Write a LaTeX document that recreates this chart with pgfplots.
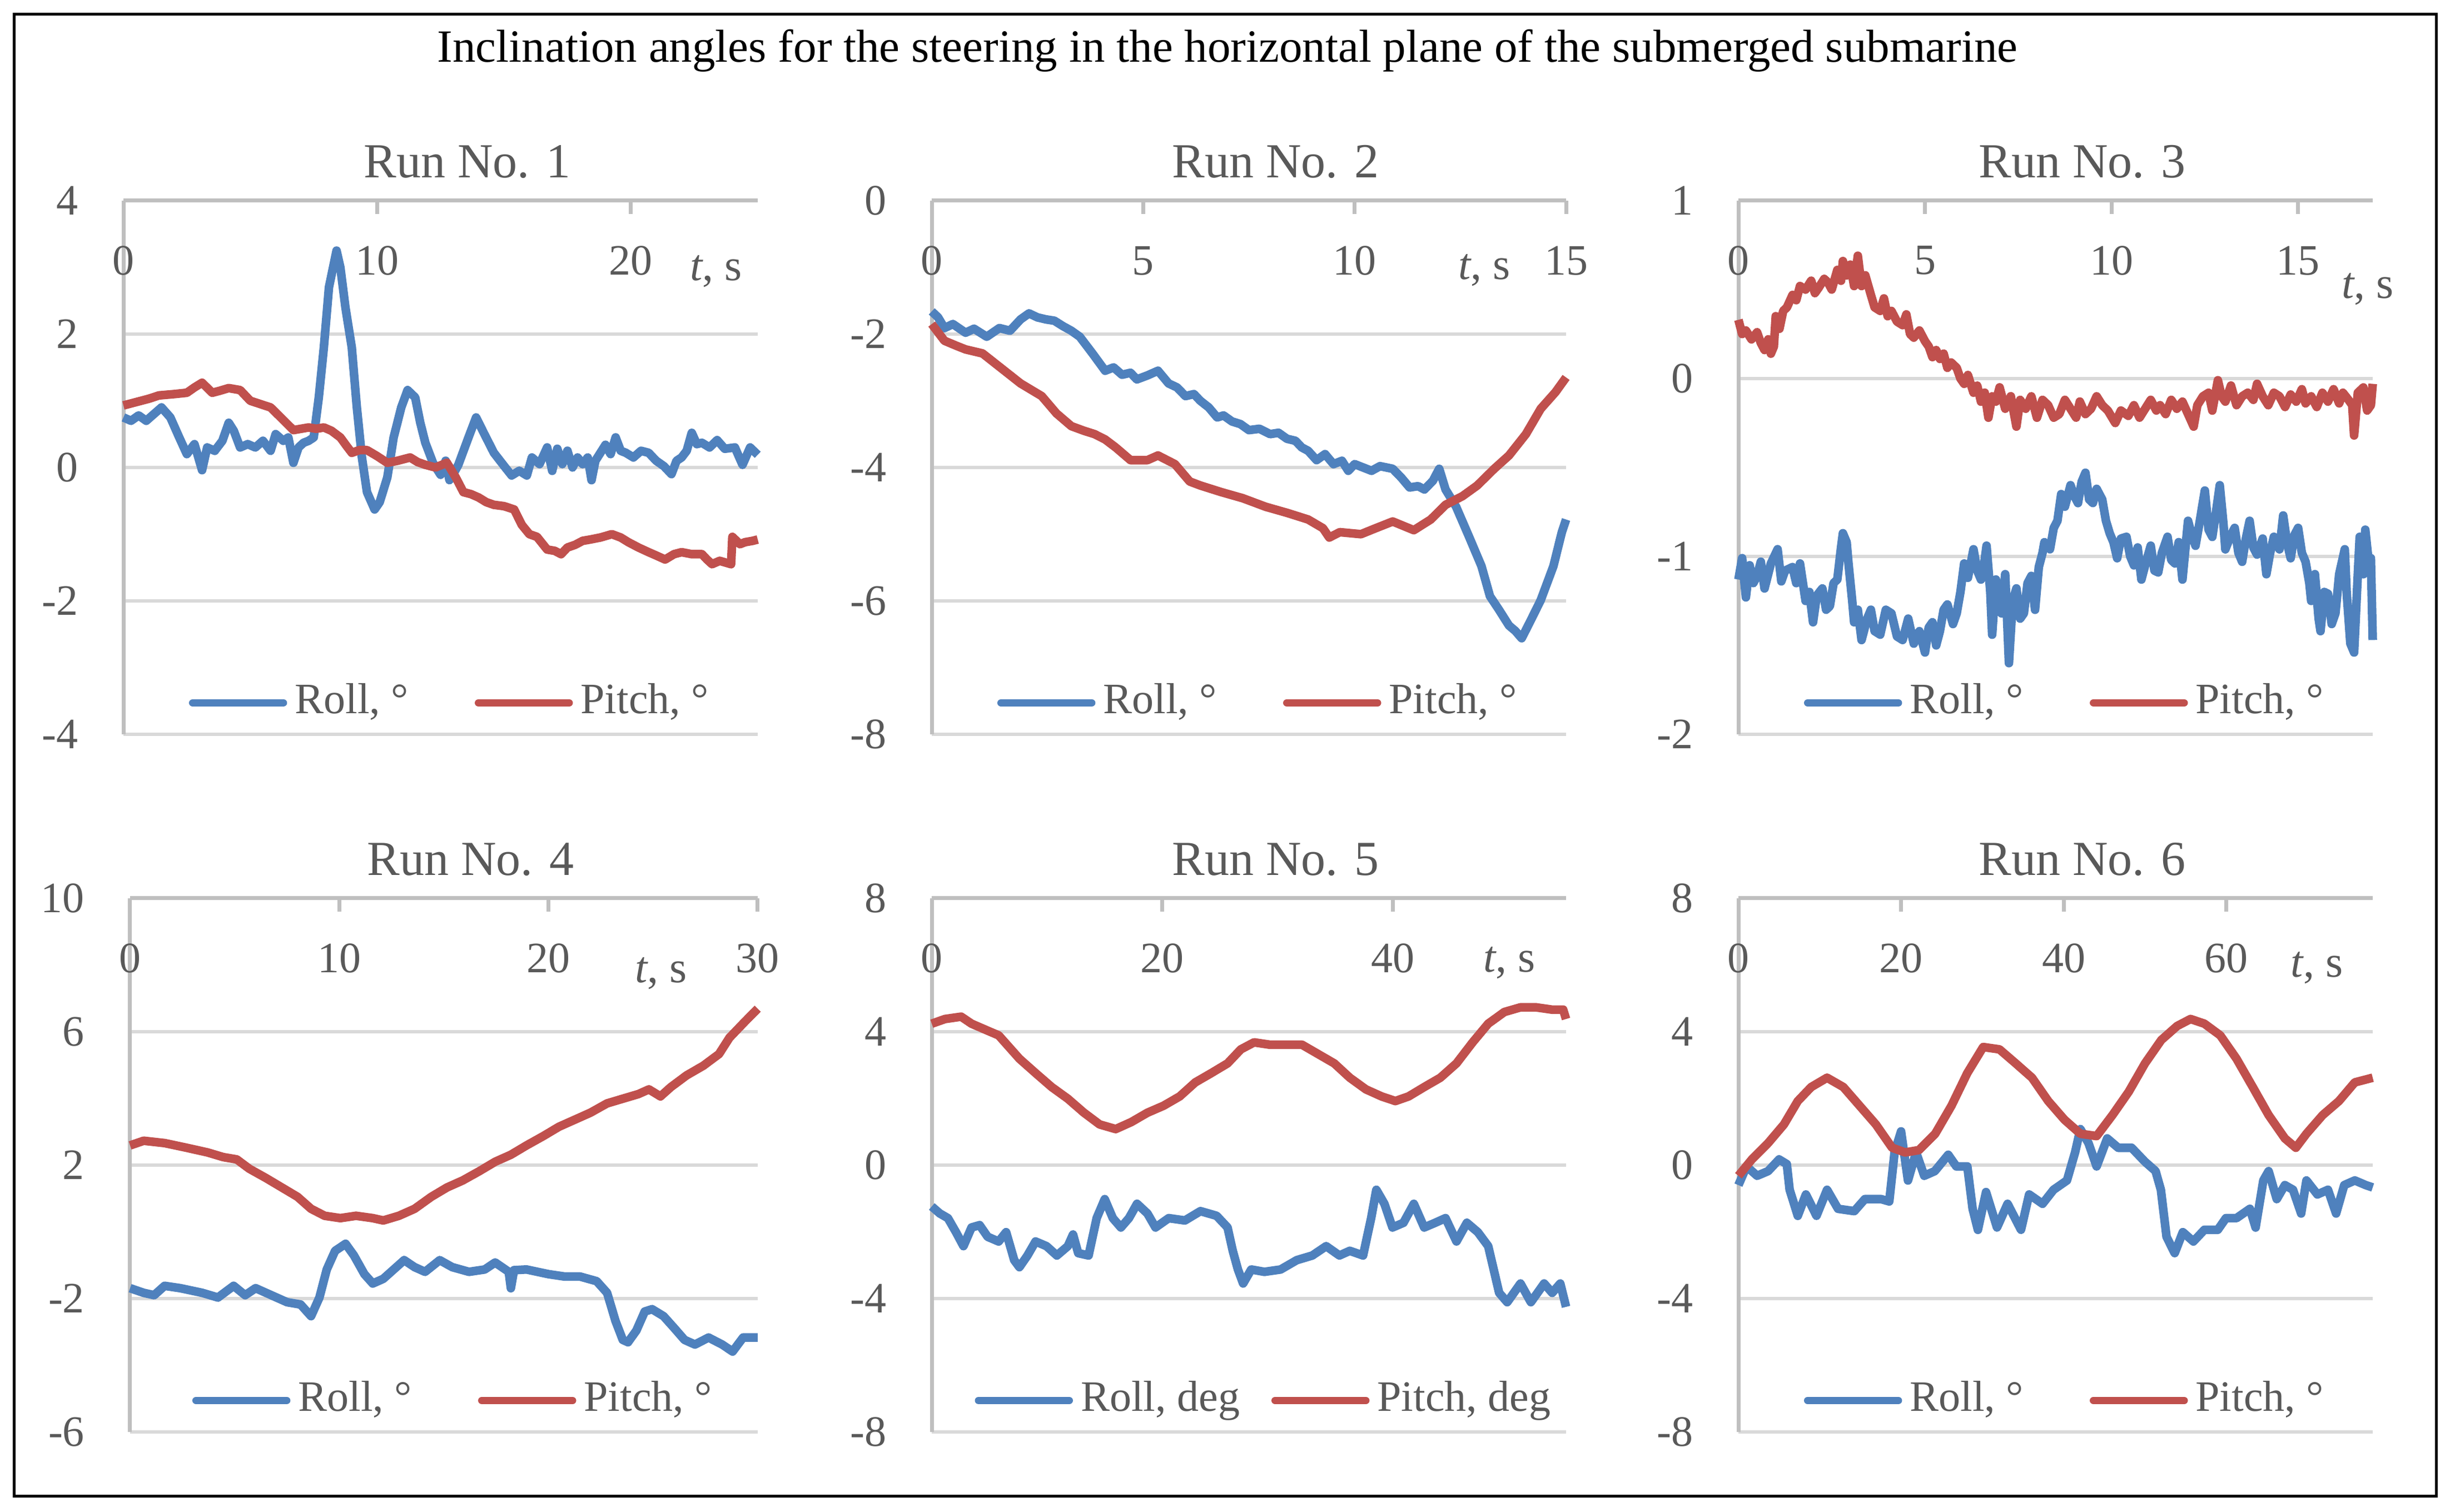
\documentclass[border=0pt]{standalone}
\usepackage{fontspec}
\setmainfont{Liberation Serif}
\usepackage{pgfplots}
\pgfplotsset{compat=1.18}

\definecolor{rollblue}{HTML}{4F81BD}
\definecolor{pitchred}{HTML}{C0504D}
\definecolor{textgray}{HTML}{595959}
\definecolor{axisgray}{HTML}{BFBFBF}
\definecolor{gridgray}{HTML}{D9D9D9}

\pgfplotsset{
  run/.style={
    scale only axis, height=96pt, clip=false,
    axis x line*=top, axis y line*=left,
    axis line style={draw=axisgray, line width=0.7pt},
    ymajorgrids, major grid style={draw=gridgray, line width=0.65pt},
    xtick style={draw=axisgray, line width=0.7pt}, major tick length=2.4pt,
    ytick style={draw=none},
    /pgf/number format/assume math mode=true,
    tick label style={font=\fontsize{7.8}{9}\selectfont, text=textgray, inner sep=0pt},
    xticklabel style={anchor=north, yshift=-8pt},
    yticklabel style={anchor=east, xshift=-8pt},
    title style={at={(0.5,1)}, anchor=base, yshift=-1.9pt, xshift=4.8pt, inner sep=0pt,
      font=\fontsize{8.8}{10}\selectfont, text=textgray},
    xlabel={\textit{t}, s},
    xlabel style={anchor=base, inner sep=0pt, font=\fontsize{8}{9}\selectfont, text=textgray},
    legend columns=2,
    legend style={at={(0.5,0)}, anchor=south, xshift=1.5pt, yshift=2pt,
      draw=none, fill=none, inner sep=0pt, nodes={inner sep=0pt},
      font=\fontsize{7.8}{9}\selectfont, text=textgray,
      /tikz/every odd column/.append style={column sep=1.4pt},
      /tikz/every even column/.append style={column sep=11.9pt}},
    legend image code/.code={\draw[#1, line width=1.35pt, line cap=round] (0pt,0pt) -- (16.3pt,0pt);},
    every axis plot/.append style={line width=1.55pt, line join=round, no markers},
  },
}

\begin{document}
\begin{tikzpicture}
\path[use as bounding box] (0pt,0pt) rectangle (441.6pt,272pt);
\draw[line width=0.5pt] (2.5pt,2.8pt) rectangle (438.2pt,269.4pt);
\node[anchor=base, font=\fontsize{8.3}{9}\selectfont] at (220.8pt,260.8pt)
  {Inclination angles for the steering in the horizontal plane of the submerged submarine};

% Run 1
\begin{axis}[run, at={(22.2pt,139.9pt)}, anchor=south west, width=114.1pt,
  title={Run No. 1}, xmin=0, xmax=25, ymin=-4, ymax=4,
  xtick={0,10,20}, ytick={-4,-2,0,2,4},
  xlabel style={at={(0.934,1)}, yshift=-14.4pt}]
\addplot[rollblue] coordinates {
(0,0.75) (0.3,0.70) (0.6,0.78) (0.9,0.70) (1.2,0.80) (1.5,0.90) (1.85,0.75) (2.2,0.45)
(2.5,0.20) (2.8,0.35) (3.1,-0.04) (3.3,0.30) (3.6,0.25) (3.9,0.40) (4.15,0.67) (4.35,0.55)
(4.6,0.30) (4.9,0.35) (5.2,0.30) (5.5,0.40) (5.8,0.25) (6.0,0.50) (6.3,0.40) (6.5,0.45)
(6.7,0.07) (6.9,0.30) (7.1,0.37) (7.3,0.40) (7.5,0.45) (7.7,1.05) (7.9,1.80) (8.1,2.70)
(8.4,3.25) (8.55,3.00) (8.75,2.40) (9.0,1.80) (9.2,0.90) (9.4,0.15) (9.6,-0.37) (9.9,-0.63)
(10.1,-0.52) (10.4,-0.15) (10.65,0.45) (10.95,0.90) (11.2,1.16) (11.5,1.05) (11.7,0.67)
(11.9,0.37) (12.2,0.07) (12.5,-0.11) (12.7,0.10) (12.85,-0.19) (13.0,-0.10) (13.2,0.04)
(13.6,0.45) (13.9,0.75) (14.2,0.52) (14.6,0.22) (15.05,0.0) (15.3,-0.12) (15.6,-0.05)
(15.9,-0.12) (16.1,0.15) (16.4,0.05) (16.7,0.30) (16.9,-0.05) (17.1,0.28) (17.3,0.05)
(17.5,0.25) (17.7,0.0) (17.9,0.15) (18.1,0.05) (18.3,0.15) (18.45,-0.19) (18.6,0.10)
(19.0,0.34) (19.2,0.20) (19.4,0.45) (19.6,0.25) (19.8,0.22) (20.1,0.15) (20.4,0.25)
(20.7,0.22) (21.0,0.10) (21.3,0.02) (21.6,-0.10) (21.8,0.10) (22.0,0.15) (22.2,0.25)
(22.4,0.52) (22.6,0.35) (22.8,0.37) (23.1,0.30) (23.4,0.41) (23.7,0.28) (24.1,0.30)
(24.4,0.04) (24.7,0.30) (25.0,0.19)
};
\addlegendentry{Roll, °}
\addplot[pitchred] coordinates {
(0,0.93) (0.5,0.98) (1.0,1.03) (1.4,1.08) (2.0,1.10) (2.5,1.12) (2.8,1.20) (3.1,1.27)
(3.5,1.12) (3.8,1.15) (4.15,1.19) (4.6,1.16) (5.0,1.00) (5.4,0.95) (5.8,0.90) (6.2,0.75)
(6.7,0.56) (7.0,0.58) (7.3,0.60) (7.6,0.58) (7.9,0.60) (8.2,0.55) (8.55,0.45) (8.8,0.32)
(9.0,0.22) (9.3,0.26) (9.6,0.26) (10.0,0.17) (10.4,0.07) (10.8,0.10) (11.3,0.15) (11.6,0.08)
(11.9,0.04) (12.3,0.0) (12.75,0.07) (13.1,-0.15) (13.4,-0.37) (13.7,-0.40) (14.0,-0.45)
(14.3,-0.52) (14.6,-0.56) (15.0,-0.58) (15.4,-0.63) (15.7,-0.86) (16.0,-1.00) (16.3,-1.04)
(16.7,-1.23) (17.0,-1.25) (17.25,-1.30) (17.5,-1.20) (17.8,-1.16) (18.1,-1.10) (18.4,-1.08)
(18.8,-1.05) (19.25,-1.00) (19.6,-1.05) (19.9,-1.12) (20.3,-1.20) (20.7,-1.27) (21.0,-1.32)
(21.35,-1.38) (21.7,-1.30) (22.0,-1.27) (22.4,-1.30) (22.8,-1.30) (23.0,-1.38) (23.2,-1.45)
(23.5,-1.40) (23.95,-1.45) (24.0,-1.04) (24.3,-1.15) (24.5,-1.12) (24.8,-1.10) (25.0,-1.08)
};
\addlegendentry{Pitch, °}
\end{axis}

% Run 2
\begin{axis}[run, at={(167.6pt,139.9pt)}, anchor=south west, width=114.1pt,
  title={Run No. 2}, xmin=0, xmax=15, ymin=-8, ymax=0,
  xtick={0,5,10,15}, ytick={-8,-6,-4,-2,0},
  xlabel style={at={(0.871,1)}, yshift=-14.2pt}]
\addplot[rollblue] coordinates {
(0,-1.66) (0.15,-1.75) (0.3,-1.91) (0.5,-1.85) (0.8,-1.98) (1.0,-1.92) (1.3,-2.04) (1.6,-1.91)
(1.85,-1.95) (2.1,-1.78) (2.3,-1.69) (2.5,-1.75) (2.7,-1.78) (2.9,-1.80) (3.1,-1.88) (3.3,-1.95)
(3.5,-2.04) (3.8,-2.29) (4.1,-2.55) (4.3,-2.50) (4.5,-2.61) (4.7,-2.58) (4.85,-2.68) (5.1,-2.62)
(5.35,-2.55) (5.6,-2.74) (5.8,-2.80) (6.0,-2.93) (6.2,-2.90) (6.35,-3.0) (6.55,-3.10) (6.75,-3.25)
(6.9,-3.22) (7.1,-3.31) (7.3,-3.35) (7.5,-3.44) (7.75,-3.42) (8.0,-3.50) (8.2,-3.48) (8.4,-3.57)
(8.6,-3.60) (8.75,-3.70) (8.9,-3.75) (9.1,-3.89) (9.3,-3.80) (9.5,-3.95) (9.7,-3.90) (9.85,-4.05)
(10.0,-3.95) (10.2,-4.00) (10.4,-4.05) (10.6,-3.98) (10.9,-4.02) (11.1,-4.15) (11.3,-4.30)
(11.5,-4.28) (11.65,-4.33) (11.85,-4.20) (12.0,-4.02) (12.15,-4.33) (12.4,-4.59) (12.7,-5.03)
(13.0,-5.48) (13.2,-5.93) (13.4,-6.12) (13.65,-6.37) (13.8,-6.45) (13.95,-6.56) (14.15,-6.31)
(14.4,-5.99) (14.7,-5.48) (14.9,-4.97) (15.0,-4.78)
};
\addlegendentry{Roll, °}
\addplot[pitchred] coordinates {
(0,-1.85) (0.3,-2.10) (0.6,-2.18) (0.8,-2.23) (1.2,-2.29) (1.6,-2.49) (2.1,-2.74) (2.6,-2.93)
(2.95,-3.19) (3.3,-3.38) (3.6,-3.45) (3.85,-3.50) (4.1,-3.58) (4.35,-3.70) (4.7,-3.89) (5.1,-3.89)
(5.35,-3.82) (5.75,-3.95) (6.1,-4.21) (6.35,-4.27) (6.85,-4.37) (7.35,-4.46) (7.9,-4.59)
(8.4,-4.68) (8.9,-4.78) (9.25,-4.91) (9.4,-5.05) (9.65,-4.97) (10.15,-5.00) (10.5,-4.91)
(10.9,-4.81) (11.4,-4.94) (11.8,-4.78) (12.15,-4.56) (12.55,-4.43) (12.9,-4.27) (13.3,-4.02)
(13.65,-3.82) (14.05,-3.50) (14.4,-3.12) (14.75,-2.87) (15.0,-2.65)
};
\addlegendentry{Pitch, °}
\end{axis}

% Run 3
\begin{axis}[run, at={(312.7pt,139.9pt)}, anchor=south west, width=114.1pt,
  title={Run No. 3}, xmin=0, xmax=17, ymin=-2, ymax=1,
  xtick={0,5,10,15}, ytick={-2,-1,0,1},
  xlabel style={at={(0.992,1)}, yshift=-17.6pt}]
\addplot[rollblue] coordinates {
(0,-1.13) (0.1,-1.01) (0.2,-1.23) (0.3,-1.05) (0.4,-1.15) (0.5,-1.11) (0.6,-1.03) (0.7,-1.18)
(0.87,-1.04) (1.05,-0.96) (1.15,-1.14) (1.25,-1.08) (1.45,-1.06) (1.55,-1.15) (1.65,-1.04)
(1.8,-1.25) (1.9,-1.20) (2.0,-1.37) (2.1,-1.22) (2.25,-1.18) (2.35,-1.30) (2.45,-1.28)
(2.55,-1.15) (2.65,-1.13) (2.75,-0.95) (2.8,-0.87) (2.9,-0.92) (2.95,-1.04) (3.05,-1.25)
(3.1,-1.37) (3.2,-1.30) (3.3,-1.47) (3.45,-1.35) (3.55,-1.30) (3.65,-1.42) (3.8,-1.44)
(3.95,-1.30) (4.1,-1.32) (4.25,-1.45) (4.4,-1.47) (4.55,-1.35) (4.7,-1.49) (4.85,-1.42)
(5.0,-1.54) (5.1,-1.40) (5.2,-1.37) (5.3,-1.50) (5.4,-1.42) (5.5,-1.30) (5.6,-1.27) (5.75,-1.38)
(5.85,-1.32) (5.95,-1.20) (6.05,-1.04) (6.15,-1.12) (6.3,-0.96) (6.4,-1.08) (6.5,-1.13)
(6.6,-1.02) (6.65,-0.94) (6.75,-1.20) (6.8,-1.44) (6.9,-1.13) (7.0,-1.25) (7.05,-1.32)
(7.15,-1.10) (7.25,-1.60) (7.35,-1.25) (7.45,-1.18) (7.55,-1.35) (7.65,-1.32) (7.75,-1.15)
(7.85,-1.11) (7.95,-1.30) (8.05,-1.06) (8.15,-0.98) (8.2,-0.92) (8.35,-0.96) (8.45,-0.84)
(8.55,-0.80) (8.65,-0.65) (8.75,-0.72) (8.9,-0.60) (9.0,-0.66) (9.1,-0.70) (9.2,-0.58)
(9.3,-0.53) (9.4,-0.68) (9.5,-0.70) (9.6,-0.62) (9.75,-0.68) (9.85,-0.80) (9.95,-0.87)
(10.05,-0.92) (10.15,-1.01) (10.25,-0.90) (10.4,-0.89) (10.5,-1.00) (10.6,-1.05) (10.7,-0.95)
(10.8,-1.13) (10.9,-1.05) (11.05,-0.94) (11.15,-1.08) (11.25,-1.09) (11.35,-0.98) (11.5,-0.89)
(11.6,-1.02) (11.7,-1.04) (11.8,-0.92) (11.9,-1.13) (12.05,-0.80) (12.15,-0.88) (12.25,-0.94)
(12.35,-0.82) (12.5,-0.63) (12.6,-0.85) (12.7,-0.89) (12.8,-0.75) (12.9,-0.60) (13.0,-0.82)
(13.05,-0.96) (13.2,-0.88) (13.3,-0.84) (13.4,-0.98) (13.5,-1.03) (13.6,-0.90) (13.7,-0.80)
(13.8,-0.95) (13.9,-0.99) (14.05,-0.90) (14.15,-1.10) (14.25,-0.98) (14.35,-0.89) (14.5,-0.96)
(14.6,-0.77) (14.7,-0.92) (14.8,-1.01) (14.9,-0.88) (15.0,-0.84) (15.1,-0.98) (15.2,-1.03)
(15.3,-1.15) (15.35,-1.25) (15.45,-1.10) (15.55,-1.35) (15.6,-1.42) (15.7,-1.20) (15.8,-1.21)
(15.9,-1.38) (16.0,-1.32) (16.1,-1.10) (16.25,-0.96) (16.3,-1.20) (16.4,-1.49) (16.5,-1.54)
(16.6,-1.10) (16.65,-0.89) (16.75,-1.10) (16.8,-0.85) (16.9,-1.05) (16.95,-1.01) (17.0,-1.47)
};
\addlegendentry{Roll, °}
\addplot[pitchred] coordinates {
(0,0.33) (0.1,0.25) (0.2,0.27) (0.35,0.22) (0.5,0.26) (0.6,0.20) (0.7,0.16) (0.8,0.22)
(0.87,0.14) (0.95,0.18) (1.0,0.35) (1.1,0.28) (1.2,0.38) (1.3,0.40) (1.45,0.47) (1.55,0.44)
(1.65,0.52) (1.8,0.50) (1.95,0.55) (2.05,0.48) (2.15,0.51) (2.3,0.56) (2.4,0.54) (2.5,0.50)
(2.65,0.61) (2.75,0.55) (2.8,0.66) (2.9,0.58) (3.0,0.64) (3.1,0.52) (3.2,0.69) (3.3,0.52)
(3.4,0.58) (3.55,0.47) (3.65,0.40) (3.8,0.38) (3.9,0.45) (4.0,0.35) (4.1,0.38) (4.25,0.32)
(4.4,0.30) (4.5,0.36) (4.6,0.25) (4.7,0.23) (4.85,0.27) (5.0,0.21) (5.1,0.18) (5.2,0.12)
(5.3,0.16) (5.4,0.11) (5.5,0.14) (5.6,0.06) (5.7,0.09) (5.85,0.06) (5.95,0.00) (6.05,-0.03)
(6.15,0.02) (6.3,-0.08) (6.4,-0.04) (6.5,-0.13) (6.6,-0.08) (6.7,-0.22) (6.8,-0.10) (6.9,-0.13)
(7.0,-0.05) (7.15,-0.17) (7.3,-0.10) (7.45,-0.27) (7.55,-0.12) (7.7,-0.17) (7.85,-0.10)
(8.0,-0.22) (8.15,-0.12) (8.3,-0.15) (8.45,-0.22) (8.6,-0.20) (8.75,-0.12) (8.9,-0.17)
(9.05,-0.22) (9.15,-0.13) (9.3,-0.20) (9.45,-0.17) (9.6,-0.10) (9.75,-0.15) (9.9,-0.18)
(10.1,-0.25) (10.25,-0.18) (10.45,-0.21) (10.6,-0.15) (10.75,-0.22) (10.9,-0.17) (11.05,-0.12)
(11.2,-0.18) (11.3,-0.15) (11.45,-0.20) (11.6,-0.12) (11.75,-0.17) (11.9,-0.13) (12.05,-0.20)
(12.2,-0.27) (12.3,-0.15) (12.45,-0.10) (12.6,-0.08) (12.7,-0.18) (12.85,-0.01) (12.95,-0.10)
(13.05,-0.13) (13.2,-0.04) (13.35,-0.15) (13.5,-0.10) (13.65,-0.08) (13.8,-0.12) (13.9,-0.03)
(14.05,-0.10) (14.2,-0.15) (14.35,-0.08) (14.5,-0.10) (14.65,-0.16) (14.8,-0.09) (14.95,-0.13)
(15.1,-0.06) (15.2,-0.14) (15.35,-0.10) (15.5,-0.16) (15.65,-0.08) (15.8,-0.13) (15.95,-0.06)
(16.1,-0.14) (16.2,-0.08) (16.35,-0.12) (16.45,-0.15) (16.5,-0.32) (16.6,-0.08) (16.75,-0.05)
(16.85,-0.18) (16.95,-0.15) (17.0,-0.03)
};
\addlegendentry{Pitch, °}
\end{axis}

% Run 4
\begin{axis}[run, at={(23.4pt,14.4pt)}, anchor=south west, width=112.9pt,
  title={Run No. 4}, xmin=0, xmax=30, ymin=-6, ymax=10,
  xtick={0,10,20,30}, ytick={-6,-2,2,6,10},
  xlabel style={at={(0.846,1)}, yshift=-15.2pt}]
\addplot[rollblue] coordinates {
(0,-1.69) (0.65,-1.83) (1.15,-1.90) (1.65,-1.62) (2.4,-1.69) (3.45,-1.83) (4.2,-1.97)
(4.95,-1.62) (5.5,-1.90) (6.0,-1.69) (6.75,-1.90) (7.5,-2.11) (8.15,-2.18) (8.65,-2.53)
(9.05,-1.97) (9.4,-1.13) (9.8,-0.57) (10.3,-0.36) (10.7,-0.71) (11.2,-1.27) (11.6,-1.55)
(12.1,-1.41) (12.6,-1.13) (13.1,-0.85) (13.6,-1.06) (14.1,-1.20) (14.8,-0.85) (15.4,-1.06)
(16.2,-1.20) (16.95,-1.13) (17.45,-0.92) (18.1,-1.20) (18.2,-1.69) (18.35,-1.15) (18.95,-1.13)
(20.0,-1.27) (20.75,-1.34) (21.5,-1.34) (22.3,-1.48) (22.8,-1.83) (23.2,-2.67) (23.55,-3.24)
(23.8,-3.31) (24.2,-2.96) (24.6,-2.39) (24.95,-2.32) (25.5,-2.53) (26.0,-2.88) (26.5,-3.24)
(27.0,-3.38) (27.65,-3.17) (28.3,-3.38) (28.8,-3.59) (29.3,-3.17) (30.0,-3.17)
};
\addlegendentry{Roll, °}
\addplot[pitchred] coordinates {
(0,2.59) (0.65,2.73) (1.65,2.66) (2.7,2.52) (3.7,2.38) (4.45,2.24) (5.1,2.17) (5.7,1.89)
(6.5,1.61) (7.25,1.33) (8.0,1.05) (8.65,0.69) (9.3,0.48) (10.05,0.41) (10.8,0.48) (11.6,0.41)
(12.1,0.34) (12.85,0.48) (13.6,0.69) (14.4,1.05) (15.15,1.33) (15.9,1.54) (16.7,1.82)
(17.45,2.10) (18.2,2.31) (18.95,2.59) (19.75,2.87) (20.5,3.15) (21.25,3.36) (22.0,3.57)
(22.8,3.85) (23.55,3.99) (24.3,4.13) (24.8,4.27) (25.35,4.06) (25.85,4.34) (26.6,4.69)
(27.4,4.98) (28.15,5.33) (28.65,5.82) (29.4,6.31) (30.0,6.69)
};
\addlegendentry{Pitch, °}
\end{axis}

% Run 5
\begin{axis}[run, at={(167.6pt,14.4pt)}, anchor=south west, width=114.1pt,
  title={Run No. 5}, xmin=0, xmax=55, ymin=-8, ymax=8,
  xtick={0,20,40}, ytick={-8,-4,0,4,8},
  xlabel style={at={(0.911,1)}, yshift=-13.3pt},
  legend style={xshift=1pt, /tikz/every even column/.append style={column sep=5.7pt}}]
\addplot[rollblue] coordinates {
(0,-1.24) (0.7,-1.45) (1.4,-1.59) (2.1,-2.01) (2.75,-2.43) (3.45,-1.87) (4.15,-1.80)
(4.85,-2.15) (5.8,-2.29) (6.45,-2.01) (7.15,-2.85) (7.6,-3.06) (8.3,-2.71) (9.0,-2.29)
(9.95,-2.43) (10.85,-2.71) (11.8,-2.43) (12.25,-2.08) (12.7,-2.64) (13.6,-2.71) (14.3,-1.59)
(15.0,-1.02) (15.7,-1.59) (16.4,-1.87) (17.1,-1.59) (17.8,-1.16) (18.7,-1.45) (19.4,-1.87)
(20.55,-1.59) (21.95,-1.66) (23.3,-1.38) (24.7,-1.52) (25.65,-1.87) (26.1,-2.57) (26.55,-3.13)
(27.0,-3.55) (27.7,-3.13) (28.85,-3.20) (30.25,-3.13) (31.65,-2.85) (33.0,-2.71) (34.2,-2.43)
(35.35,-2.71) (36.25,-2.57) (37.4,-2.71) (38.1,-1.59) (38.55,-0.74) (39.25,-1.16) (39.95,-1.87)
(40.9,-1.73) (41.8,-1.16) (42.7,-1.87) (43.65,-1.73) (44.55,-1.59) (45.5,-2.29) (46.4,-1.73)
(47.35,-2.01) (48.25,-2.43) (49.2,-3.83) (49.9,-4.11) (51.05,-3.55) (51.95,-4.11) (53.1,-3.55)
(53.8,-3.83) (54.5,-3.55) (55.0,-4.25)
};
\addlegendentry{Roll, deg}
\addplot[pitchred] coordinates {
(0,4.24) (1.15,4.38) (2.55,4.45) (3.45,4.24) (4.85,4.03) (5.8,3.89) (6.7,3.54) (7.6,3.19)
(9.0,2.76) (10.4,2.34) (11.8,1.99) (13.2,1.57) (14.55,1.22) (15.95,1.08) (17.3,1.29)
(18.7,1.57) (20.1,1.78) (21.5,2.06) (22.85,2.48) (24.25,2.76) (25.65,3.05) (26.8,3.47)
(27.95,3.68) (29.3,3.61) (30.7,3.61) (32.1,3.61) (33.5,3.33) (34.9,3.05) (36.25,2.62)
(37.65,2.27) (39.0,2.06) (40.2,1.92) (41.35,2.06) (42.7,2.34) (44.1,2.62) (45.5,3.05)
(46.9,3.68) (48.25,4.24) (49.65,4.59) (51.05,4.73) (52.4,4.73) (53.8,4.66) (54.75,4.66)
(55.0,4.38)
};
\addlegendentry{Pitch, deg}
\end{axis}

% Run 6
\begin{axis}[run, at={(312.7pt,14.4pt)}, anchor=south west, width=114.1pt,
  title={Run No. 6}, xmin=0, xmax=78, ymin=-8, ymax=8,
  xtick={0,20,40,60}, ytick={-8,-4,0,4,8},
  xlabel style={at={(0.912,1)}, yshift=-14.2pt}]
\addplot[rollblue] coordinates {
(0,-0.60) (1.0,-0.04) (2.3,-0.32) (3.65,-0.18) (5.0,0.17) (5.95,0.03) (6.3,-0.74) (7.3,-1.52)
(8.3,-0.88) (9.6,-1.52) (10.9,-0.74) (12.25,-1.31) (14.25,-1.38) (15.55,-1.02) (17.55,-1.02)
(18.55,-1.09) (19.2,0.38) (20.0,1.01) (20.85,-0.46) (21.85,0.38) (22.85,-0.32) (24.15,-0.18)
(25.8,0.31) (26.8,-0.04) (28.15,-0.04) (28.8,-1.31) (29.45,-1.94) (30.45,-0.81) (31.8,-1.87)
(33.1,-1.16) (34.75,-1.94) (35.75,-0.88) (37.4,-1.16) (38.75,-0.74) (40.4,-0.46) (41.4,0.38)
(42.05,1.08) (43.05,0.66) (44.05,-0.04) (45.35,0.80) (46.7,0.52) (48.35,0.52) (50.0,0.10)
(51.3,-0.18) (51.95,-0.74) (52.65,-2.15) (53.65,-2.64) (54.65,-2.01) (55.95,-2.29)
(57.3,-1.94) (58.95,-1.94) (59.95,-1.59) (61.25,-1.59) (62.9,-1.31) (63.6,-1.87) (64.55,-0.46)
(65.2,-0.18) (66.2,-1.02) (67.2,-0.60) (68.2,-0.74) (69.2,-1.45) (69.85,-0.46) (71.2,-0.88)
(72.5,-0.74) (73.5,-1.45) (74.5,-0.60) (75.8,-0.46) (77.15,-0.60) (78.0,-0.67)
};
\addlegendentry{Roll, °}
\addplot[pitchred] coordinates {
(0,-0.32) (1.65,0.17) (3.65,0.66) (5.6,1.22) (7.3,1.92) (8.95,2.34) (10.9,2.62) (12.9,2.34)
(14.9,1.78) (16.9,1.22) (18.9,0.52) (20.5,0.38) (22.2,0.45) (24.2,0.94) (26.2,1.78)
(28.15,2.76) (30.1,3.54) (32.1,3.47) (34.1,3.05) (36.1,2.62) (38.1,1.92) (40.1,1.36)
(42.05,0.94) (44.05,0.87) (46.0,1.50) (48.0,2.20) (50.0,3.05) (52.0,3.75) (53.95,4.17)
(55.6,4.38) (57.3,4.24) (59.25,3.89) (61.25,3.19) (63.25,2.34) (65.2,1.50) (67.2,0.80)
(68.55,0.52) (69.85,0.94) (71.85,1.50) (73.85,1.92) (75.8,2.48) (78.0,2.62)
};
\addlegendentry{Pitch, °}
\end{axis}
\end{tikzpicture}
\end{document}
